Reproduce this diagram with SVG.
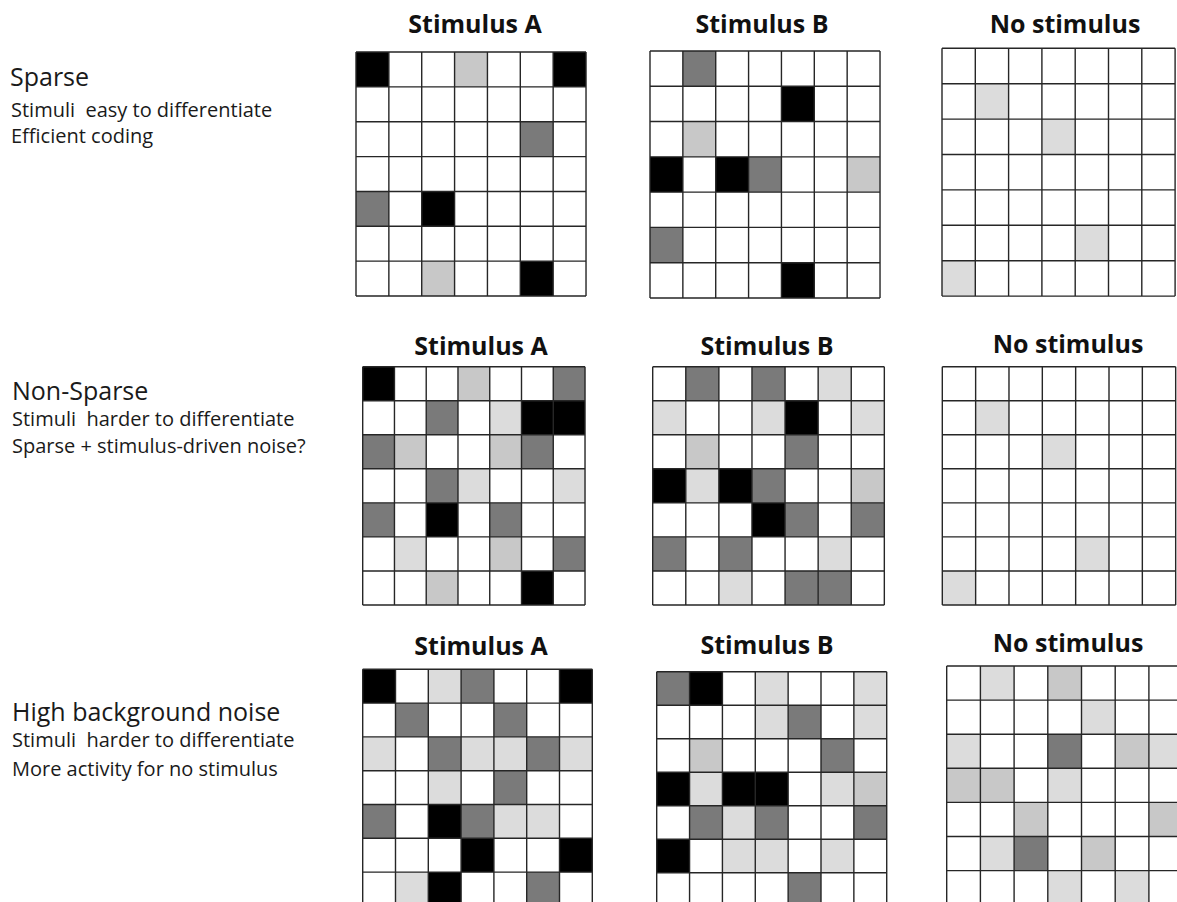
<svg xmlns="http://www.w3.org/2000/svg" width="1177" height="902" viewBox="0 0 1177 902">
<style>
.bg{fill:#fff}
.b{fill:#000}
.d{fill:#7a7a7a}
.l{fill:#c8c8c8}
.v{fill:#dcdcdc}
.t{font-family:"Open Sans","Noto Sans",sans-serif;font-weight:bold;font-size:25px;fill:#111;text-anchor:middle}
.h{font-family:"Open Sans","Noto Sans",sans-serif;font-size:25px;fill:#1a1a1a}
.s{font-family:"Open Sans","Noto Sans",sans-serif;font-size:20px;fill:#1a1a1a;white-space:pre}
</style>
<defs>
<path id="lines" fill="none" stroke="#262626" stroke-width="1.4" vector-effect="non-scaling-stroke" d="M0 0H7M0 1H7M0 2H7M0 3H7M0 4H7M0 5H7M0 6H7M0 7H7M0 0V7M1 0V7M2 0V7M3 0V7M4 0V7M5 0V7M6 0V7M7 0V7"/>
</defs>
<rect width="1177" height="902" fill="#fff"/>

<g id="labels">
<text class="h" x="10" y="86">Sparse</text>
<text class="s" x="11" y="116.7">Stimuli  easy to differentiate</text>
<text class="s" x="11" y="143.3">Efficient coding</text>
<text class="h" x="12" y="400">Non-Sparse</text>
<text class="s" x="12" y="426">Stimuli  harder to differentiate</text>
<text class="s" x="12" y="453">Sparse + stimulus-driven noise?</text>
<text class="h" x="12" y="720.7">High background noise</text>
<text class="s" x="12" y="747.3">Stimuli  harder to differentiate</text>
<text class="s" x="12" y="776">More activity for no stimulus</text>
</g>

<g id="sparse-a">
<text class="t" x="475" y="33">Stimulus A</text>
<g transform="translate(356 52) scale(32.86 34.86)">
<rect class="bg" width="7" height="7"/>
<rect class="b" x="0" y="0" width="1" height="1"/><rect class="b" x="6" y="0" width="1" height="1"/><rect class="b" x="2" y="4" width="1" height="1"/><rect class="b" x="5" y="6" width="1" height="1"/>
<rect class="l" x="3" y="0" width="1" height="1"/><rect class="l" x="2" y="6" width="1" height="1"/>
<rect class="d" x="5" y="2" width="1" height="1"/><rect class="d" x="0" y="4" width="1" height="1"/>
<use href="#lines"/>
</g>
</g>

<g id="sparse-b">
<text class="t" x="762" y="33">Stimulus B</text>
<g transform="translate(650 51) scale(32.86 35.28)">
<rect class="bg" width="7" height="7"/>
<rect class="d" x="1" y="0" width="1" height="1"/><rect class="d" x="3" y="3" width="1" height="1"/><rect class="d" x="0" y="5" width="1" height="1"/>
<rect class="b" x="4" y="1" width="1" height="1"/><rect class="b" x="0" y="3" width="1" height="1"/><rect class="b" x="2" y="3" width="1" height="1"/><rect class="b" x="4" y="6" width="1" height="1"/>
<rect class="l" x="1" y="2" width="1" height="1"/><rect class="l" x="6" y="3" width="1" height="1"/>
<use href="#lines"/>
</g>
</g>

<g id="sparse-none">
<text class="t" x="1065" y="33">No stimulus</text>
<g transform="translate(942 48.3) scale(33.3 35.4)">
<rect class="bg" width="7" height="7"/>
<rect class="v" x="1" y="1" width="1" height="1"/><rect class="v" x="3" y="2" width="1" height="1"/><rect class="v" x="4" y="5" width="1" height="1"/><rect class="v" x="0" y="6" width="1" height="1"/>
<use href="#lines"/>
</g>
</g>

<g id="nonsparse-a">
<text class="t" x="481" y="355">Stimulus A</text>
<g transform="translate(362.7 366.7) scale(31.76 34.04)">
<rect class="bg" width="7" height="7"/>
<rect class="b" x="0" y="0" width="1" height="1"/><rect class="l" x="3" y="0" width="1" height="1"/><rect class="d" x="6" y="0" width="1" height="1"/>
<rect class="d" x="2" y="1" width="1" height="1"/><rect class="v" x="4" y="1" width="1" height="1"/><rect class="b" x="5" y="1" width="1" height="1"/><rect class="b" x="6" y="1" width="1" height="1"/>
<rect class="d" x="0" y="2" width="1" height="1"/><rect class="l" x="1" y="2" width="1" height="1"/><rect class="l" x="4" y="2" width="1" height="1"/><rect class="d" x="5" y="2" width="1" height="1"/>
<rect class="d" x="2" y="3" width="1" height="1"/><rect class="v" x="3" y="3" width="1" height="1"/><rect class="v" x="6" y="3" width="1" height="1"/>
<rect class="d" x="0" y="4" width="1" height="1"/><rect class="b" x="2" y="4" width="1" height="1"/><rect class="d" x="4" y="4" width="1" height="1"/>
<rect class="v" x="1" y="5" width="1" height="1"/><rect class="l" x="4" y="5" width="1" height="1"/><rect class="d" x="6" y="5" width="1" height="1"/>
<rect class="l" x="2" y="6" width="1" height="1"/><rect class="b" x="5" y="6" width="1" height="1"/>
<use href="#lines"/>
</g>
</g>

<g id="nonsparse-b">
<text class="t" x="767" y="355">Stimulus B</text>
<g transform="translate(652.7 366.7) scale(33.09 34.04)">
<rect class="bg" width="7" height="7"/>
<rect class="d" x="1" y="0" width="1" height="1"/><rect class="d" x="3" y="0" width="1" height="1"/><rect class="v" x="5" y="0" width="1" height="1"/>
<rect class="v" x="0" y="1" width="1" height="1"/><rect class="v" x="3" y="1" width="1" height="1"/><rect class="b" x="4" y="1" width="1" height="1"/><rect class="v" x="6" y="1" width="1" height="1"/>
<rect class="l" x="1" y="2" width="1" height="1"/><rect class="d" x="4" y="2" width="1" height="1"/>
<rect class="b" x="0" y="3" width="1" height="1"/><rect class="v" x="1" y="3" width="1" height="1"/><rect class="b" x="2" y="3" width="1" height="1"/><rect class="d" x="3" y="3" width="1" height="1"/><rect class="l" x="6" y="3" width="1" height="1"/>
<rect class="b" x="3" y="4" width="1" height="1"/><rect class="d" x="4" y="4" width="1" height="1"/><rect class="d" x="6" y="4" width="1" height="1"/>
<rect class="d" x="0" y="5" width="1" height="1"/><rect class="d" x="2" y="5" width="1" height="1"/><rect class="v" x="5" y="5" width="1" height="1"/>
<rect class="v" x="2" y="6" width="1" height="1"/><rect class="d" x="4" y="6" width="1" height="1"/><rect class="d" x="5" y="6" width="1" height="1"/>
<use href="#lines"/>
</g>
</g>

<g id="nonsparse-none">
<text class="t" x="1068" y="352.7">No stimulus</text>
<g transform="translate(942.3 366.7) scale(33.34 34.04)">
<rect class="bg" width="7" height="7"/>
<rect class="v" x="1" y="1" width="1" height="1"/><rect class="v" x="3" y="2" width="1" height="1"/><rect class="v" x="4" y="5" width="1" height="1"/><rect class="v" x="0" y="6" width="1" height="1"/>
<use href="#lines"/>
</g>
</g>

<g id="noise-a">
<text class="t" x="481" y="655">Stimulus A</text>
<g transform="translate(362.7 669.3) scale(32.8 33.8)">
<rect class="bg" width="7" height="7"/>
<rect class="b" x="0" y="0" width="1" height="1"/><rect class="v" x="2" y="0" width="1" height="1"/><rect class="d" x="3" y="0" width="1" height="1"/><rect class="b" x="6" y="0" width="1" height="1"/>
<rect class="d" x="1" y="1" width="1" height="1"/><rect class="d" x="4" y="1" width="1" height="1"/>
<rect class="v" x="0" y="2" width="1" height="1"/><rect class="d" x="2" y="2" width="1" height="1"/><rect class="v" x="3" y="2" width="1" height="1"/><rect class="v" x="4" y="2" width="1" height="1"/><rect class="d" x="5" y="2" width="1" height="1"/><rect class="v" x="6" y="2" width="1" height="1"/>
<rect class="v" x="2" y="3" width="1" height="1"/><rect class="d" x="4" y="3" width="1" height="1"/>
<rect class="d" x="0" y="4" width="1" height="1"/><rect class="b" x="2" y="4" width="1" height="1"/><rect class="d" x="3" y="4" width="1" height="1"/><rect class="v" x="4" y="4" width="1" height="1"/><rect class="v" x="5" y="4" width="1" height="1"/>
<rect class="b" x="3" y="5" width="1" height="1"/><rect class="b" x="6" y="5" width="1" height="1"/>
<rect class="v" x="1" y="6" width="1" height="1"/><rect class="b" x="2" y="6" width="1" height="1"/><rect class="d" x="5" y="6" width="1" height="1"/>
<use href="#lines"/>
</g>
</g>

<g id="noise-b">
<text class="t" x="767" y="654">Stimulus B</text>
<g transform="translate(656.7 671.7) scale(32.86 33.5)">
<rect class="bg" width="7" height="7"/>
<rect class="d" x="0" y="0" width="1" height="1"/><rect class="b" x="1" y="0" width="1" height="1"/><rect class="v" x="3" y="0" width="1" height="1"/><rect class="v" x="6" y="0" width="1" height="1"/>
<rect class="v" x="3" y="1" width="1" height="1"/><rect class="d" x="4" y="1" width="1" height="1"/><rect class="v" x="6" y="1" width="1" height="1"/>
<rect class="l" x="1" y="2" width="1" height="1"/><rect class="d" x="5" y="2" width="1" height="1"/>
<rect class="b" x="0" y="3" width="1" height="1"/><rect class="v" x="1" y="3" width="1" height="1"/><rect class="b" x="2" y="3" width="1" height="1"/><rect class="b" x="3" y="3" width="1" height="1"/><rect class="v" x="5" y="3" width="1" height="1"/><rect class="l" x="6" y="3" width="1" height="1"/>
<rect class="d" x="1" y="4" width="1" height="1"/><rect class="v" x="2" y="4" width="1" height="1"/><rect class="d" x="3" y="4" width="1" height="1"/><rect class="d" x="6" y="4" width="1" height="1"/>
<rect class="b" x="0" y="5" width="1" height="1"/><rect class="v" x="2" y="5" width="1" height="1"/><rect class="v" x="3" y="5" width="1" height="1"/><rect class="v" x="5" y="5" width="1" height="1"/>
<rect class="d" x="4" y="6" width="1" height="1"/>
<use href="#lines"/>
</g>
</g>

<g id="noise-none">
<text class="t" x="1068" y="651.7">No stimulus</text>
<g transform="translate(946.7 666) scale(33.7 34.1)">
<rect class="bg" width="7" height="7"/>
<rect class="v" x="1" y="0" width="1" height="1"/><rect class="l" x="3" y="0" width="1" height="1"/>
<rect class="v" x="4" y="1" width="1" height="1"/>
<rect class="v" x="0" y="2" width="1" height="1"/><rect class="d" x="3" y="2" width="1" height="1"/><rect class="l" x="5" y="2" width="1" height="1"/><rect class="v" x="6" y="2" width="1" height="1"/>
<rect class="l" x="0" y="3" width="1" height="1"/><rect class="l" x="1" y="3" width="1" height="1"/><rect class="v" x="3" y="3" width="1" height="1"/>
<rect class="l" x="2" y="4" width="1" height="1"/><rect class="l" x="6" y="4" width="1" height="1"/>
<rect class="v" x="1" y="5" width="1" height="1"/><rect class="d" x="2" y="5" width="1" height="1"/><rect class="l" x="4" y="5" width="1" height="1"/>
<rect class="v" x="3" y="6" width="1" height="1"/><rect class="v" x="5" y="6" width="1" height="1"/>
<use href="#lines"/>
</g>
</g>
</svg>
